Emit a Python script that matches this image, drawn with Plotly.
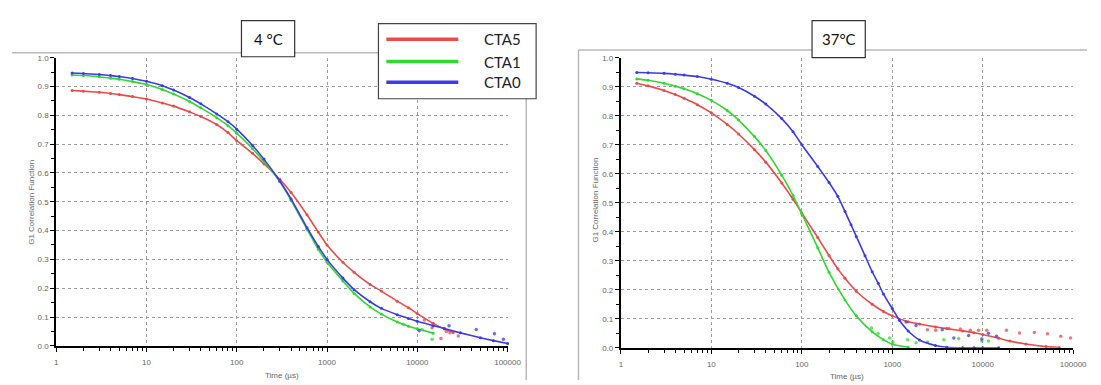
import plotly.graph_objects as go

W, H = 1101, 385

series_names = ["CTA5", "CTA1", "CTA0"]
series_colors = ["#ee4a4a", "#2fd92f", "#3b3bea"]

panel_titles = ["4 °C", "37°C"]
x_title = "Time (µs)"
y_title = "G1 Correlation Function"
x_tick_vals = [1, 10, 100, 1000, 10000, 100000]
x_tick_text = ["1", "10", "100", "1000", "10000", "100000"]

# ---- 4 °C : fitted correlation curves ----
cold_t_cta5 = [1.5, 2, 3, 4, 5, 7, 10, 15, 20, 30, 40, 60, 80, 100, 150, 200, 300, 400, 600, 800,
               1000, 1500, 2000, 3000, 4000, 6000, 8000, 10000, 15000, 20000, 25000]
cold_g_cta5 = [0.886, 0.884, 0.880, 0.876, 0.872, 0.865, 0.857, 0.843, 0.832, 0.812, 0.796, 0.768,
               0.740, 0.712, 0.668, 0.632, 0.578, 0.532, 0.455, 0.395, 0.350, 0.290, 0.255, 0.213,
               0.190, 0.155, 0.132, 0.112, 0.078, 0.058, 0.046]

cold_t_cta1 = [1.5, 2, 3, 4, 5, 7, 10, 15, 20, 30, 40, 60, 80, 100, 150, 200, 300, 400, 600, 800,
               1000, 1500, 2000, 3000, 4000, 6000, 8000, 10000, 15000]
cold_g_cta1 = [0.940, 0.938, 0.934, 0.929, 0.925, 0.917, 0.907, 0.890, 0.874, 0.848, 0.826, 0.792,
               0.764, 0.738, 0.684, 0.640, 0.570, 0.505, 0.405, 0.335, 0.290, 0.225, 0.182, 0.135,
               0.110, 0.083, 0.068, 0.059, 0.044]

cold_t_cta0 = [1.5, 2, 3, 4, 5, 7, 10, 15, 20, 30, 40, 60, 80, 100, 150, 200, 300, 400, 600, 800,
               1000, 1500, 2000, 3000, 4000, 6000, 8000, 10000, 15000, 20000, 30000, 50000, 70000, 100000]
cold_g_cta0 = [0.947, 0.945, 0.942, 0.938, 0.935, 0.928, 0.918, 0.903, 0.888, 0.862, 0.840, 0.805,
               0.778, 0.752, 0.695, 0.648, 0.572, 0.510, 0.410, 0.345, 0.300, 0.235, 0.195, 0.153,
               0.130, 0.108, 0.095, 0.085, 0.070, 0.060, 0.045, 0.028, 0.018, 0.008]

# ---- 4 °C : noisy tail points ----
cold_tail_t_cta5 = [12000, 14600, 18300, 21000, 23000, 28500]
cold_tail_g_cta5 = [0.090, 0.063, 0.025, 0.050, 0.045, 0.034]
cold_tail_t_cta1 = [7000, 11300, 14600]
cold_tail_g_cta1 = [0.075, 0.057, 0.023]
cold_tail_t_cta0 = [10500, 22500, 45000, 71600, 90000]
cold_tail_g_cta0 = [0.052, 0.070, 0.057, 0.042, 0.023]

# ---- 37 °C : fitted correlation curves ----
hot_t_cta5 = [1.5, 2, 3, 4, 5, 7, 10, 15, 20, 30, 40, 60, 80, 100, 150, 200, 250, 300, 400, 600, 800,
              1000, 1500, 2000, 3000, 4000, 6000, 8000, 10000, 15000, 20000, 30000, 50000, 70000]
hot_g_cta5 = [0.912, 0.903, 0.887, 0.873, 0.860, 0.838, 0.810, 0.770, 0.737, 0.683, 0.640, 0.568,
              0.512, 0.465, 0.380, 0.318, 0.272, 0.240, 0.195, 0.150, 0.125, 0.110, 0.090, 0.082,
              0.072, 0.066, 0.058, 0.052, 0.046, 0.033, 0.023, 0.013, 0.004, 0.001]

hot_t_cta1 = [1.5, 2, 3, 4, 5, 7, 10, 15, 20, 30, 40, 60, 80, 100, 150, 200, 300, 400, 600, 800,
              1000, 1500]
hot_g_cta1 = [0.927, 0.922, 0.912, 0.902, 0.893, 0.876, 0.853, 0.818, 0.785, 0.728, 0.680, 0.595,
              0.525, 0.462, 0.345, 0.260, 0.165, 0.110, 0.055, 0.028, 0.012, 0.002]

hot_t_cta0 = [1.5, 2, 3, 4, 5, 7, 10, 15, 20, 30, 40, 60, 80, 100, 150, 200, 250, 300, 350, 400,
              500, 600, 700, 800, 1000, 1200, 1500, 2000, 3000, 4000, 6000, 8000, 10000, 15000]
hot_g_cta0 = [0.949, 0.948, 0.946, 0.943, 0.940, 0.935, 0.926, 0.912, 0.897, 0.867, 0.840, 0.790,
              0.745, 0.700, 0.625, 0.570, 0.522, 0.470, 0.424, 0.384, 0.317, 0.262, 0.222, 0.185,
              0.135, 0.095, 0.058, 0.027, 0.008, 0.002, 0.0, 0.0, 0.0, 0.0]

# ---- 37 °C : noisy tail points ----
hot_tail_t_cta5 = [2450, 3020, 4220, 5660, 7280, 8980, 11070, 18300, 25500, 37200, 52000, 72800, 93500]
hot_tail_g_cta5 = [0.062, 0.060, 0.066, 0.065, 0.060, 0.060, 0.060, 0.060, 0.051, 0.053, 0.048, 0.040, 0.034]
hot_tail_t_cta1 = [590, 697, 935, 1017, 1480, 1830, 2450, 3720, 5420, 9770, 11560]
hot_tail_g_cta1 = [0.068, 0.049, 0.034, 0.020, 0.028, 0.017, 0.020, 0.028, 0.032, 0.023, 0.023]
hot_tail_t_cta0 = [1420, 1830, 3570, 4790, 6980, 9770, 11560, 14200]
hot_tail_g_cta0 = [0.089, 0.077, 0.062, 0.034, 0.042, 0.030, 0.050, 0.040]

cold_curves = [(cold_t_cta5, cold_g_cta5), (cold_t_cta1, cold_g_cta1), (cold_t_cta0, cold_g_cta0)]
cold_tails = [(cold_tail_t_cta5, cold_tail_g_cta5), (cold_tail_t_cta1, cold_tail_g_cta1),
              (cold_tail_t_cta0, cold_tail_g_cta0)]
hot_curves = [(hot_t_cta5, hot_g_cta5), (hot_t_cta1, hot_g_cta1), (hot_t_cta0, hot_g_cta0)]
hot_tails = [(hot_tail_t_cta5, hot_tail_g_cta5), (hot_tail_t_cta1, hot_tail_g_cta1),
             (hot_tail_t_cta0, hot_tail_g_cta0)]


def px(x):
    return x / W


def py(y):
    return 1 - y / H


fig = go.Figure()

panels = [("x", "y", cold_curves, cold_tails), ("x2", "y2", hot_curves, hot_tails)]
for xa, ya, curves, tails in panels:
    for name, color, (t, g), (tt, tg) in zip(series_names, series_colors, curves, tails):
        fig.add_trace(go.Scatter(
            x=t, y=g, mode="lines+markers", name=name, xaxis=xa, yaxis=ya,
            line=dict(color=color, width=1.6, shape="spline", smoothing=0.6),
            marker=dict(color=color, size=3), showlegend=False, cliponaxis=False))
        fig.add_trace(go.Scatter(
            x=tt, y=tg, mode="markers", name=name, xaxis=xa, yaxis=ya,
            marker=dict(color=color, size=3.5, opacity=0.75), showlegend=False))

minor_x = [m * 10 ** k for k in range(5) for m in range(2, 10)]

axis_font = dict(family="Liberation Sans, Arial, sans-serif", size=8, color="#666666")


def x_axis(domain, anchor):
    return dict(
        type="log", range=[0, 5], domain=domain, anchor=anchor,
        tickmode="array", tickvals=x_tick_vals, ticktext=x_tick_text,
        showline=True, linecolor="black", linewidth=2,
        ticks="outside", ticklen=4, tickcolor="black", tickwidth=1, ticklabelstandoff=4,
        showgrid=True, gridcolor="#9a9a9a", griddash="dot", gridwidth=1,
        minor=dict(tickmode="array", tickvals=minor_x, ticks="outside", ticklen=3,
                   tickcolor="black", showgrid=False),
        tickfont=axis_font, zeroline=False, fixedrange=True)


def y_axis(domain, anchor):
    return dict(
        range=[0, 1], domain=domain, anchor=anchor, dtick=0.1, tickformat=".1f",
        showline=True, linecolor="black", linewidth=2,
        ticks="outside", ticklen=4, tickcolor="black", tickwidth=1,
        showgrid=True, gridcolor="#9a9a9a", griddash="dot", gridwidth=1,
        minor=dict(dtick=0.05, ticks="outside", ticklen=3, tickcolor="black", showgrid=False),
        tickfont=axis_font, zeroline=False, fixedrange=True)


shapes = []
annotations = []

# window frames around each panel
frame_line = dict(color="#b8b8b8", width=1.5)
shapes += [
    dict(type="line", xref="paper", yref="paper", x0=px(10), x1=px(532), y0=py(50), y1=py(50), line=frame_line),
    dict(type="line", xref="paper", yref="paper", x0=px(532), x1=px(532), y0=py(50), y1=py(385), line=frame_line),
    dict(type="line", xref="paper", yref="paper", x0=px(585), x1=px(1101), y0=py(47), y1=py(47), line=frame_line),
    dict(type="line", xref="paper", yref="paper", x0=px(585), x1=px(585), y0=py(47), y1=py(385), line=frame_line),
]

# panel title boxes
title_boxes = [(243, 17, 297, 54), (822, 17, 876, 55)]
for (x0, y0, x1, y1), title in zip(title_boxes, panel_titles):
    shapes.append(dict(type="rect", xref="paper", yref="paper", x0=px(x0), x1=px(x1), y0=py(y1), y1=py(y0),
                       line=dict(color="#333333", width=1.2), fillcolor="white", layer="above"))
    annotations.append(dict(x=px((x0 + x1) / 2), y=py((y0 + y1) / 2), xref="paper", yref="paper",
                            text=title, showarrow=False, xanchor="center", yanchor="middle",
                            font=dict(family="Lato, Open Sans, sans-serif", size=15, color="#111111")))

# legend box with line samples
lx0, ly0, lx1, ly1 = 382, 20, 542, 97
shapes.append(dict(type="rect", xref="paper", yref="paper", x0=px(lx0), x1=px(lx1), y0=py(ly1), y1=py(ly0),
                   line=dict(color="#444444", width=1.2), fillcolor="white", layer="above"))
for row_y, name, color in zip([36, 59, 80], series_names, series_colors):
    shapes.append(dict(type="line", xref="paper", yref="paper", x0=px(390), x1=px(463),
                       y0=py(row_y), y1=py(row_y), line=dict(color=color, width=3.5), layer="above"))
    annotations.append(dict(x=px(529), y=py(row_y), xref="paper", yref="paper", text=name,
                            showarrow=False, xanchor="right", yanchor="middle",
                            font=dict(family="Lato, Open Sans, sans-serif", size=15, color="#222222")))

# axis titles
for (tx, ty), (yx, yy) in [((284, 380), (30, 203)), ((857, 381), (602, 201))]:
    annotations.append(dict(x=px(tx), y=py(ty), xref="paper", yref="paper", text=x_title, showarrow=False,
                            xanchor="center", yanchor="middle", font=axis_font))
    annotations.append(dict(x=px(yx), y=py(yy), xref="paper", yref="paper", text=y_title, showarrow=False,
                            textangle=-90, xanchor="center", yanchor="middle", font=axis_font))

fig.update_layout(
    width=W, height=H, margin=dict(l=0, r=0, t=0, b=0),
    paper_bgcolor="white", plot_bgcolor="white",
    xaxis=x_axis([px(55), px(513)], "y"),
    yaxis=y_axis([1 - 350 / H, 1 - 55 / H], "x"),
    xaxis2=x_axis([px(628), px(1087)], "y2"),
    yaxis2=y_axis([1 - 352 / H, 1 - 55 / H], "x2"),
    shapes=shapes, annotations=annotations, showlegend=False,
)

fig.write_html("out.html")
